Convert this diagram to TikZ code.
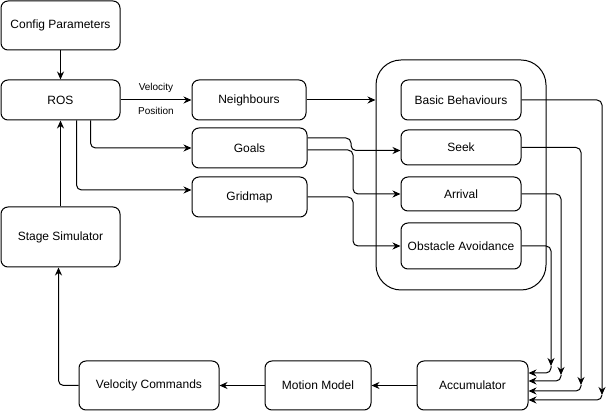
\documentclass[tikz,border=0pt]{standalone}
\usepackage{fontspec}
\setmainfont{Liberation Sans}
\usetikzlibrary{arrows.meta}
\tikzset{
	blk/.style = {
		shape=rectangle,
		draw,
		line width=1pt,
		rounded corners=7pt,
		align=center,
		inner sep=0pt,
		font=\fontsize{12}{14}\selectfont
	},
	arr/.style = {
		line width=1pt,
		rounded corners=5pt,
		-{Stealth[length=8pt,width=7pt]}
	},
	lbl/.style = {
		font=\fontsize{10}{12}\selectfont,
		inner sep=0pt
	}
}
\begin{document}
\begin{tikzpicture}[x=1pt,y=-1pt]
		\useasboundingbox (0,0) rectangle (611,411);
		\node[blk, minimum width=119, minimum height=49] (config) at (60.5,25.5) {Config Parameters};
		\node[blk, minimum width=119, minimum height=40] (ros) at (60.5,100) {ROS};
		\node[blk, minimum width=119, minimum height=60] (stage) at (60.5,237) {Stage Simulator};
		\node[blk, minimum width=114, minimum height=40] (neigh) at (249,100) {Neighbours};
		\node[blk, minimum width=115, minimum height=40] (goals) at (249.5,148) {Goals};
		\node[blk, minimum width=115, minimum height=40] (grid) at (249.5,197) {Gridmap};
		\node[blk, rounded corners=25pt, minimum width=170, minimum height=230] (behav) at (461,175) {};
		\node[blk, minimum width=120, minimum height=40] (basic) at (461,100) {Basic Behaviours};
		\node[blk, minimum width=120, minimum height=35] (seek) at (461,147.5) {Seek};
		\node[blk, minimum width=120, minimum height=34] (arrival) at (461,194) {Arrival};
		\node[blk, minimum width=120, minimum height=46] (obst) at (461,246) {Obstacle Avoidance};
		\node[blk, minimum width=140, minimum height=49] (vcmd) at (149,385.5) {Velocity Commands};
		\node[blk, minimum width=106, minimum height=49] (motion) at (318,385.5) {Motion Model};
		\node[blk, minimum width=111, minimum height=49] (acc) at (472.5,385.5) {Accumulator};
		\coordinate (j1) at (551,366);
		\coordinate (j2) at (561,375);
		\coordinate (j3) at (581,385);
		\coordinate (j4) at (602,395);
		\draw[arr] (config) -- (ros);
		\draw[arr] (ros) -- (neigh)
			node[midway, above=7pt, lbl] {Velocity}
			node[midway, below=7pt, lbl] {Position};
		\draw[arr] ([xshift=30pt]ros.south) |- (goals.west);
		\draw[arr] ([xshift=16pt]ros.south) |- ([yshift=7pt]grid.west);
		\draw[arr] (stage) -- (ros);
		\draw[arr] (neigh) -- (neigh -| behav.west);
		\draw[arr] ([yshift=10pt]goals.east) -- (351,138) |- ([yshift=-3pt]seek.west);
		\draw[arr] ([yshift=-2pt]goals.east) -- (353,150) |- (arrival.west);
		\draw[arr] (grid.east) -- (353,197) |- (obst.west);
		\draw[arr] (basic.east) -| (j4);
		\draw[arr] (seek.east) -| (j3);
		\draw[arr] (arrival.east) -| (j2);
		\draw[arr] (obst.east) -| (j1);
		\draw[arr] (j1) |- ([yshift=12.5pt]acc.east);
		\draw[arr] (j2) |- ([yshift=4.5pt]acc.east);
		\draw[arr] (j3) |- ([yshift=-5.5pt]acc.east);
		\draw[arr] (j4) |- ([yshift=-14.5pt]acc.east);
		\draw[arr] (acc) -- (motion);
		\draw[arr] (motion) -- (vcmd);
		\draw[arr] (vcmd.west) -| ([xshift=-2pt]stage.south);
\end{tikzpicture}
\end{document}
